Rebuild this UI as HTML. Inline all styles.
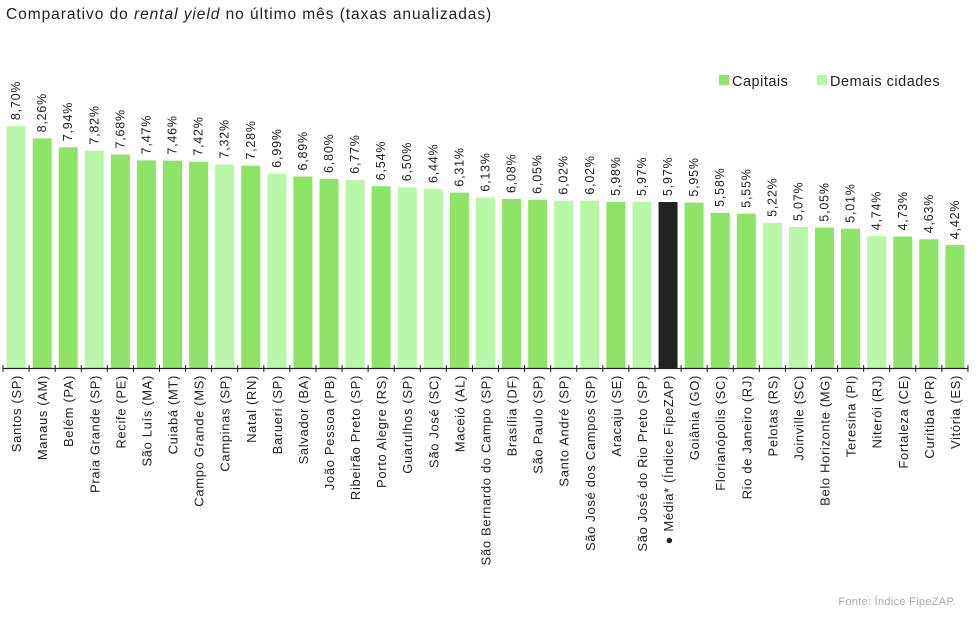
<!DOCTYPE html>
<html><head><meta charset="utf-8"><style>
body{margin:0;background:#fff;width:980px;height:616px;overflow:hidden;font-family:"Liberation Sans",sans-serif}
</style></head><body>
<svg width="980" height="616" xmlns="http://www.w3.org/2000/svg">
<text x="6" y="19" font-size="15.5" letter-spacing="0.95" fill="#222">Comparativo do <tspan font-style="italic">rental yield</tspan> no último mês (taxas anualizadas)</text>
<g>
<rect x="719" y="75" width="10" height="10" fill="#8de466"/>
<text x="732" y="86" font-size="14.5" letter-spacing="0.5" fill="#222">Capitais</text>
<rect x="817" y="75" width="10" height="10" fill="#b8f7a8"/>
<text x="830" y="86" font-size="14.5" letter-spacing="0.5" fill="#222">Demais cidades</text>
</g>
<g id="plot"></g>
<text x="956" y="605" font-size="11" letter-spacing="0.3" fill="#aaa" text-anchor="end">Fonte: Índice FipeZAP.</text>
</svg>
<script>
const categories=["Santos (SP)","Manaus (AM)","Belém (PA)","Praia Grande (SP)","Recife (PE)","São Luís (MA)","Cuiabá (MT)","Campo Grande (MS)","Campinas (SP)","Natal (RN)","Barueri (SP)","Salvador (BA)","João Pessoa (PB)","Ribeirão Preto (SP)","Porto Alegre (RS)","Guarulhos (SP)","São José (SC)","Maceió (AL)","São Bernardo do Campo (SP)","Brasília (DF)","São Paulo (SP)","Santo André (SP)","São José dos Campos (SP)","Aracaju (SE)","São José do Rio Preto (SP)","● Média* (Índice FipeZAP)","Goiânia (GO)","Florianópolis (SC)","Rio de Janeiro (RJ)","Pelotas (RS)","Joinville (SC)","Belo Horizonte (MG)","Teresina (PI)","Niterói (RJ)","Fortaleza (CE)","Curitiba (PR)","Vitória (ES)"];
const values=[8.70,8.26,7.94,7.82,7.68,7.47,7.46,7.42,7.32,7.28,6.99,6.89,6.80,6.77,6.54,6.50,6.44,6.31,6.13,6.08,6.05,6.02,6.02,5.98,5.97,5.97,5.95,5.58,5.55,5.22,5.07,5.05,5.01,4.74,4.73,4.63,4.42];
const types=["d","c","c","d","c","c","c","c","d","c","d","c","c","d","c","d","d","c","d","c","c","d","d","c","d","m","c","c","c","d","d","c","c","d","c","c","c"];
const colors={c:"#8de466",d:"#b8f7a8",m:"#222222"};
const NS="http://www.w3.org/2000/svg";
const g=document.getElementById("plot");
const x0=3,step=26.08,base=368,k=27.8,bw=19;
const xc=i=>x0+step*(i+0.5);
const y=v=>base-v*k;
function mk(t,a){const e=document.createElementNS(NS,t);for(const n in a)e.setAttribute(n,a[n]);return e;}
values.forEach((v,i)=>{
 const r=mk("rect",{x:xc(i)-bw/2,y:y(v),width:bw,height:base-y(v),fill:colors[types[i]]});
 
 
 g.appendChild(r);
 const cx=xc(i)+4,ty=y(v)-6;
 const t=mk("text",{x:cx,y:ty,"font-size":12.5,"letter-spacing":0.8,fill:"#222",transform:`rotate(-90 ${cx} ${ty})`});
 t.textContent=v.toFixed(2).replace(".",",")+"%";
 
 
 g.appendChild(t);
 const lx=xc(i)+5,ly=375;
 const c=mk("text",{x:lx,y:ly,"font-size":13,"letter-spacing":0.65,fill:"#222","text-anchor":"end",transform:`rotate(-90 ${lx} ${ly})`});
 c.textContent=categories[i];
 
 
 g.appendChild(c);
});
const ax=mk("line",{x1:x0,x2:x0+step*values.length,y1:base+0.5,y2:base+0.5,stroke:"#222","stroke-width":1.2});


g.appendChild(ax);
for(let i=0;i<=values.length;i++){
 const tk=mk("line",{x1:x0+step*i,x2:x0+step*i,y1:base-3,y2:base+4,stroke:"#222","stroke-width":1});
 
 
 g.appendChild(tk);
}
</script>
</body></html>
